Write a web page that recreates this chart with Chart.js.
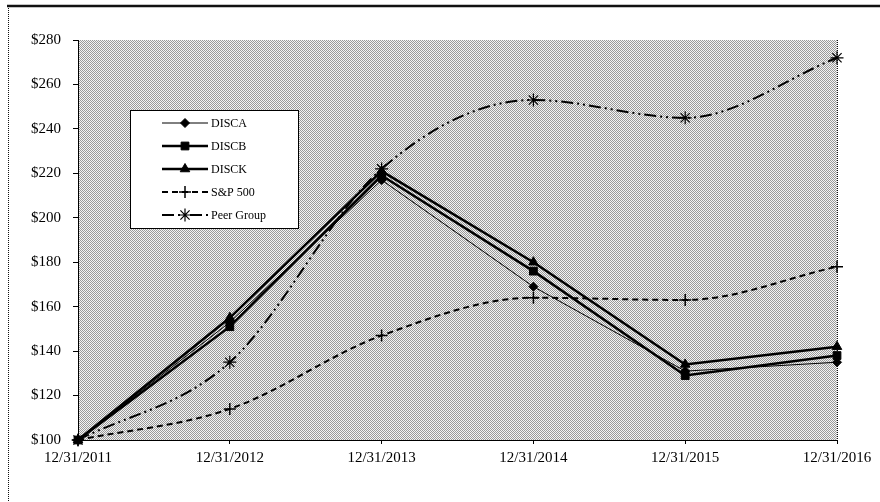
<!DOCTYPE html>
<html>
<head>
<meta charset="utf-8">
<script src="https://cdn.jsdelivr.net/npm/chart.js@4.4.1/dist/chart.umd.min.js"></script>
<style>
html, body { margin: 0; padding: 0; background: #fff; }
#wrap { width: 880px; height: 502px; }
</style>
</head>
<body>
<div id="wrap"><canvas id="perfChart" width="880" height="502"></canvas></div>
<script>
const labels = ['12/31/2011', '12/31/2012', '12/31/2013', '12/31/2014', '12/31/2015', '12/31/2016'];
const discA = [100, 153, 217, 169, 131, 135];
const discB = [100, 151, 219, 176, 129, 138];
const discK = [100, 155, 221, 180, 134, 142];
const sp500 = [100, 114, 147, 164, 163, 178];
const peerGroup = [100, 135, 222, 253, 245, 272];
const yMin = 100;
const yMax = 280;
const yStep = 20;

const serif = "'Liberation Serif', 'DejaVu Serif', serif";

// grey dither like the scanned original
const dither = (() => {
    const c = document.createElement('canvas');
    c.width = 2;
    c.height = 2;
    const g = c.getContext('2d');
    g.fillStyle = '#f4f4f4';
    g.fillRect(0, 0, 2, 2);
    g.fillStyle = '#9a9a9a';
    g.fillRect(0, 0, 1, 1);
    g.fillRect(1, 1, 1, 1);
    return c;
})();

const frameAndPlot = {
    id: 'frameAndPlot',
    beforeDraw(chart) {
        const { ctx, chartArea: a } = chart;
        ctx.save();
        ctx.fillStyle = ctx.createPattern(dither, 'repeat');
        ctx.fillRect(a.left, a.top, a.right - a.left, a.bottom - a.top);

        ctx.strokeStyle = '#111';
        ctx.lineWidth = 2.5;
        ctx.beginPath();
        ctx.moveTo(7, 6);
        ctx.lineTo(880, 6);
        ctx.stroke();

        ctx.lineWidth = 1;
        ctx.setLineDash([1, 1]);
        ctx.beginPath();
        ctx.moveTo(8.5, 6);
        ctx.lineTo(8.5, 502);
        ctx.moveTo(a.right + 0.5, a.top);
        ctx.lineTo(a.right + 0.5, a.bottom);
        ctx.stroke();
        ctx.restore();
    },
};

const boxLegend = {
    id: 'boxLegend',
    afterDraw(chart) {
        const { ctx } = chart;
        const box = { x: 130, y: 110, w: 168, h: 118 };
        ctx.save();
        ctx.fillStyle = '#fff';
        ctx.fillRect(box.x, box.y, box.w, box.h);
        ctx.strokeStyle = '#000';
        ctx.lineWidth = 1;
        ctx.strokeRect(box.x + 0.5, box.y + 0.5, box.w, box.h);

        chart.data.datasets.forEach((ds, i) => {
            const y = 123 + i * 23;
            ctx.strokeStyle = '#000';
            ctx.lineWidth = ds.borderWidth;
            ctx.setLineDash(ds.borderDash || []);
            ctx.beginPath();
            ctx.moveTo(162, y);
            ctx.lineTo(208, y);
            ctx.stroke();
            ctx.setLineDash([]);
            ctx.fillStyle = '#000';
            ctx.lineWidth = ds.pointBorderWidth;
            Chart.helpers.drawPoint(ctx, { pointStyle: ds.pointStyle, radius: ds.pointRadius, rotation: 0, borderWidth: ds.pointBorderWidth }, 185, y);
            ctx.fillStyle = '#000';
            ctx.font = '12px ' + serif;
            ctx.textBaseline = 'middle';
            ctx.fillText(ds.label, 211, y + 1);
        });
        ctx.restore();
    },
};

const lineSet = (label, data, extra) => ({
    label,
    data,
    borderColor: '#000',
    backgroundColor: '#000',
    pointBackgroundColor: '#000',
    pointBorderColor: '#000',
    fill: false,
    tension: 0,
    ...extra,
});

new Chart(document.getElementById('perfChart'), {
    type: 'line',
    data: {
        labels,
        datasets: [
            lineSet('DISCA', discA, { borderWidth: 1, pointStyle: 'rectRot', pointRadius: 4.5, pointBorderWidth: 1 }),
            lineSet('DISCB', discB, { borderWidth: 2.5, pointStyle: 'rect', pointRadius: 5.5, pointBorderWidth: 1 }),
            lineSet('DISCK', discK, { borderWidth: 2.5, pointStyle: 'triangle', pointRadius: 5.5, pointBorderWidth: 1 }),
            lineSet('S&P 500', sp500, { borderWidth: 2, borderDash: [6, 4], pointStyle: 'cross', pointRadius: 6, pointBorderWidth: 1.5, cubicInterpolationMode: 'monotone' }),
            lineSet('Peer Group', peerGroup, { borderWidth: 2, borderDash: [12, 4, 2, 4, 2, 4], pointStyle: 'star', pointRadius: 6.5, pointBorderWidth: 1.2, cubicInterpolationMode: 'monotone' }),
        ],
    },
    options: {
        responsive: false,
        animation: false,
        devicePixelRatio: 1,
        clip: false,
        layout: { padding: { left: 8, right: 43, top: 40, bottom: 0 } },
        plugins: { legend: { display: false }, tooltip: { enabled: false } },
        scales: {
            x: {
                offset: false,
                afterFit: (s) => { s.height = 62; },
                grid: { drawOnChartArea: false, tickLength: 4, color: '#000' },
                border: { display: true, color: '#000', width: 1 },
                ticks: { color: '#000', font: { family: serif, size: 15 }, padding: 5, maxRotation: 0, autoSkip: false },
            },
            y: {
                min: yMin,
                max: yMax,
                afterFit: (s) => { s.width = 70; },
                grid: { drawOnChartArea: false, tickLength: 5, color: '#000' },
                border: { display: true, color: '#000', width: 1 },
                ticks: { stepSize: yStep, color: '#000', font: { family: serif, size: 15 }, padding: 12, callback: (v) => '$' + v },
            },
        },
    },
    plugins: [frameAndPlot, boxLegend],
});
</script>
</body>
</html>
